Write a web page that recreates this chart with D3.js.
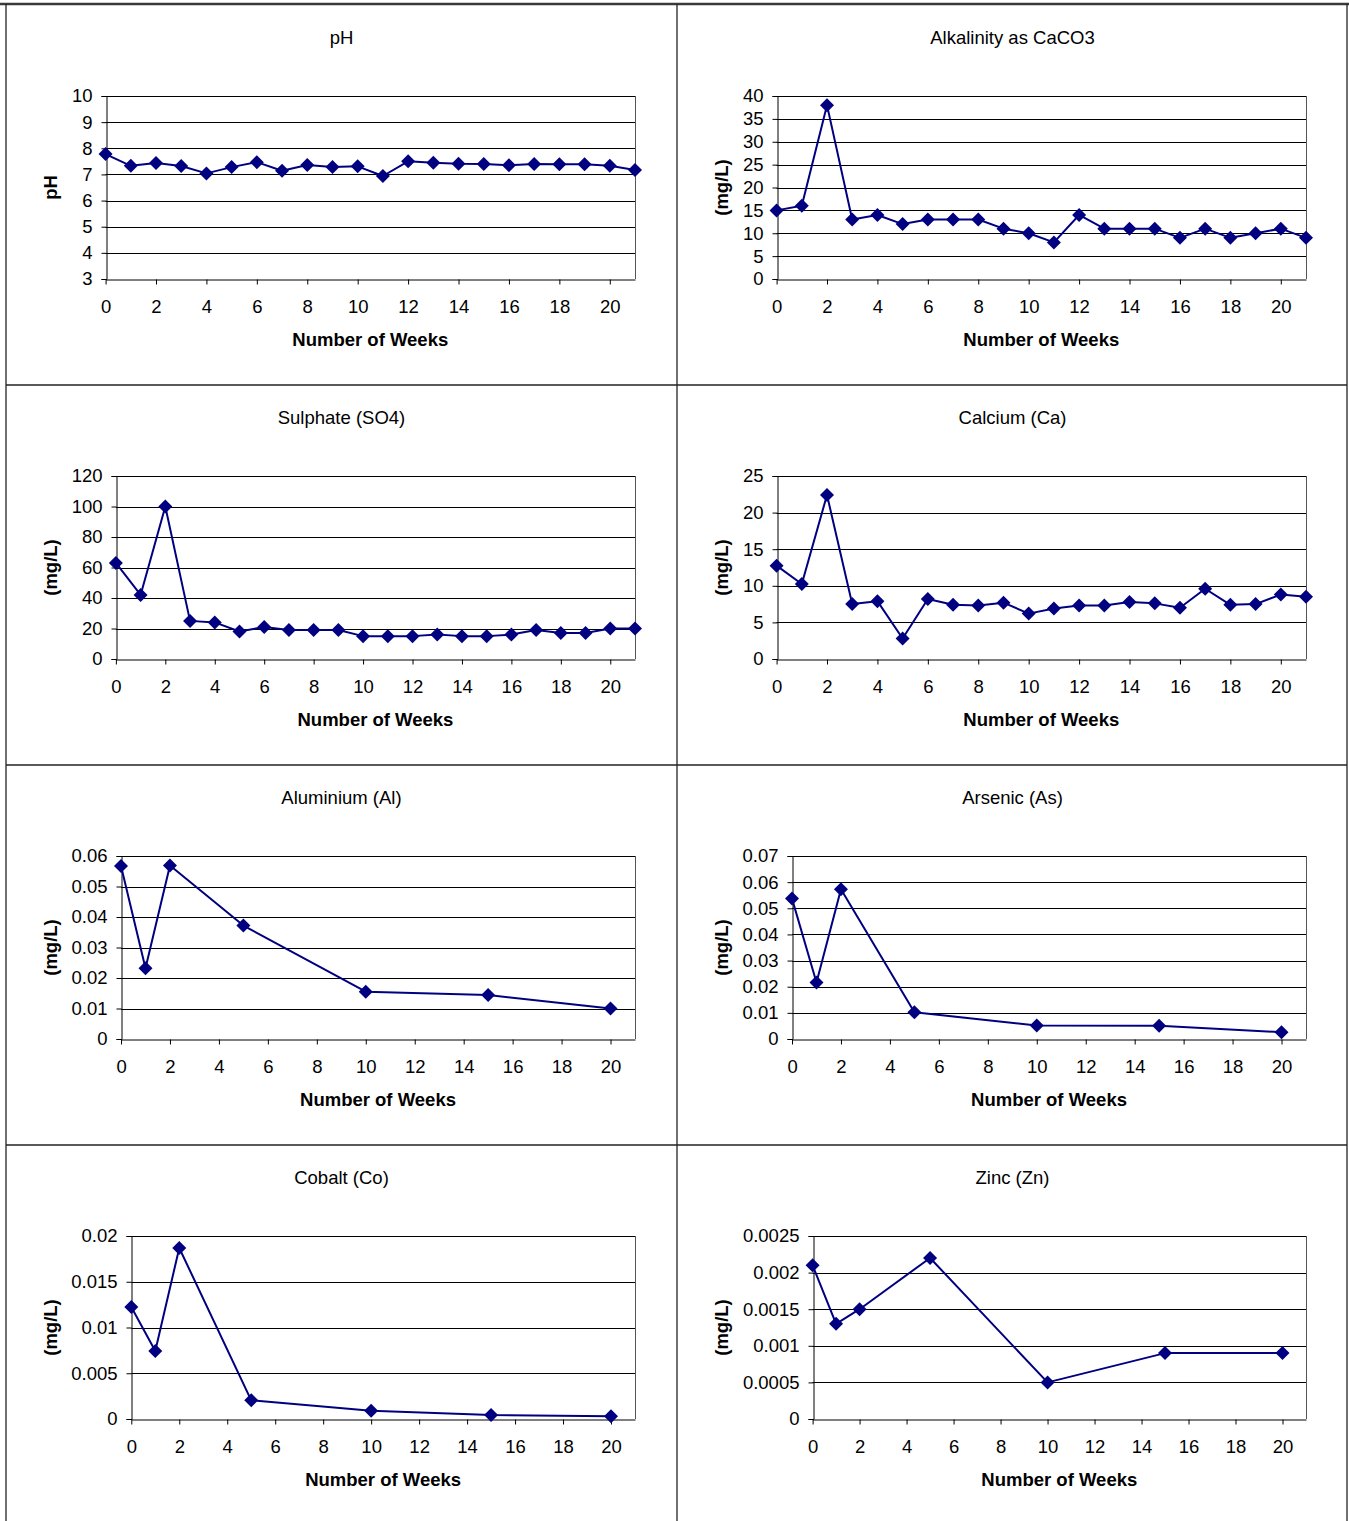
<!DOCTYPE html>
<html>
<head>
<meta charset="utf-8">
<script src="https://cdn.jsdelivr.net/npm/d3@7/dist/d3.min.js"></script>
<style>
  html, body { margin: 0; padding: 0; background: #fff; }
  svg { display: block; font-family: "Liberation Sans", Arial, sans-serif; }
</style>
</head>
<body>
<svg id="chart" width="1349" height="1521"></svg>
<script>
// Weekly sampling: full series (weeks 0-21) and sparse metal series
const weeksFull = [0, 1, 2, 3, 4, 5, 6, 7, 8, 9, 10, 11, 12, 13, 14, 15, 16, 17, 18, 19, 20, 21];
const weeksSparse = [0, 1, 2, 5, 10, 15, 20];
const weekTicks = [0, 2, 4, 6, 8, 10, 12, 14, 16, 18, 20];

const phValues = [7.78, 7.33, 7.44, 7.32, 7.04, 7.28, 7.47, 7.14, 7.36, 7.28, 7.31, 6.94, 7.5, 7.45, 7.41, 7.4, 7.35, 7.4, 7.39, 7.39, 7.33, 7.17];
const alkalinityValues = [15, 16, 38, 13, 14, 12, 13, 13, 13, 11, 10, 8, 14, 11, 11, 11, 9, 11, 9, 10, 11, 9];
const sulphateValues = [63, 42, 100, 25, 24, 18, 21, 19, 19, 19, 15, 15, 15, 16, 15, 15, 16, 19, 17, 17, 20, 20];
const calciumValues = [12.75, 10.25, 22.4, 7.5, 7.9, 2.8, 8.2, 7.4, 7.3, 7.7, 6.2, 6.9, 7.3, 7.3, 7.8, 7.6, 7.0, 9.6, 7.4, 7.5, 8.8, 8.5];
const aluminiumValues = [0.0567, 0.0232, 0.0569, 0.0372, 0.0155, 0.0144, 0.01];
const arsenicValues = [0.0537, 0.0216, 0.0573, 0.0102, 0.0052, 0.0051, 0.0026];
const cobaltValues = [0.01224, 0.00743, 0.01869, 0.00204, 0.00091, 0.00044, 0.00029];
const zincValues = [0.0021, 0.0013, 0.0015, 0.0022, 0.0005, 0.0009, 0.0009];

const phTicks = [3, 4, 5, 6, 7, 8, 9, 10];
const alkalinityTicks = [0, 5, 10, 15, 20, 25, 30, 35, 40];
const sulphateTicks = [0, 20, 40, 60, 80, 100, 120];
const calciumTicks = [0, 5, 10, 15, 20, 25];
const aluminiumTicks = [0, 0.01, 0.02, 0.03, 0.04, 0.05, 0.06];
const arsenicTicks = [0, 0.01, 0.02, 0.03, 0.04, 0.05, 0.06, 0.07];
const cobaltTicks = [0, 0.005, 0.01, 0.015, 0.02];
const zincTicks = [0, 0.0005, 0.001, 0.0015, 0.002, 0.0025];

const panelTitles = ["pH", "Alkalinity as CaCO3", "Sulphate (SO4)", "Calcium (Ca)", "Aluminium (Al)", "Arsenic (As)", "Cobalt (Co)", "Zinc (Zn)"];
const yTitles = ["pH", "(mg/L)", "(mg/L)", "(mg/L)", "(mg/L)", "(mg/L)", "(mg/L)", "(mg/L)"];
const xTitle = "Number of Weeks";

const panels = [
  { weeks: weeksFull, values: phValues, ticks: phTicks },
  { weeks: weeksFull, values: alkalinityValues, ticks: alkalinityTicks },
  { weeks: weeksFull, values: sulphateValues, ticks: sulphateTicks },
  { weeks: weeksFull, values: calciumValues, ticks: calciumTicks },
  { weeks: weeksSparse, values: aluminiumValues, ticks: aluminiumTicks },
  { weeks: weeksSparse, values: arsenicValues, ticks: arsenicTicks },
  { weeks: weeksSparse, values: cobaltValues, ticks: cobaltTicks },
  { weeks: weeksSparse, values: zincValues, ticks: zincTicks }
].map((p, i) => ({ ...p, title: panelTitles[i], yTitle: yTitles[i] }));

// Page layout
const colLefts = [6, 677];
const colRight = 1347;
const rowTops = [5, 385, 765, 1145];
const fontSize = 18.5;
const lineColor = "#000080";

const svg = d3.select("#chart");

// Measure tick label widths to place each plot area's left edge
const measurer = svg.append("text").attr("font-size", fontSize).attr("visibility", "hidden");
function textWidth(s) {
  measurer.text(s);
  return measurer.node().getComputedTextLength();
}

panels.forEach((p, i) => {
  const col = i % 2, row = Math.floor(i / 2);
  const cellLeft = colLefts[col];
  const top = rowTops[row];
  const plotTop = top + 91;
  const plotBottom = top + 274;
  const maxLabel = d3.max(p.ticks, t => textWidth(String(t)));
  const plotLeft = cellLeft + 79 + maxLabel;
  const plotRight = cellLeft + 629;

  const x = d3.scaleLinear().domain([0, 21]).range([plotLeft, plotRight]);
  const y = d3.scaleLinear().domain([p.ticks[0], p.ticks[p.ticks.length - 1]]).range([plotBottom, plotTop]);

  const g = svg.append("g");

  // Panel title
  g.append("text")
    .attr("x", cellLeft + 335.5).attr("y", top + 38.5)
    .attr("text-anchor", "middle").attr("font-size", fontSize)
    .text(p.title);

  // Horizontal gridlines
  g.append("g").selectAll("line").data(p.ticks.slice(1)).join("line")
    .attr("x1", plotLeft).attr("x2", plotRight)
    .attr("y1", d => Math.round(y(d)) + 0.5).attr("y2", d => Math.round(y(d)) + 0.5)
    .attr("stroke", "#000").attr("stroke-width", 1);

  // Plot-area right border
  g.append("line")
    .attr("x1", Math.round(plotRight) + 0.5).attr("x2", Math.round(plotRight) + 0.5)
    .attr("y1", plotTop).attr("y2", plotBottom)
    .attr("stroke", "#555").attr("stroke-width", 1);

  // Y axis
  const yAxis = d3.axisLeft(y).tickValues(p.ticks).tickFormat(d => String(d)).tickSize(5).tickPadding(9);
  const yG = g.append("g").attr("transform", `translate(${Math.round(plotLeft) + 0.5},0)`).call(yAxis);
  yG.selectAll("text").attr("font-size", fontSize).attr("fill", "#000");
  yG.selectAll("line, path").attr("stroke", "#000");
  yG.attr("font-family", null);

  // X axis
  const xAxis = d3.axisBottom(x).tickValues(weekTicks).tickFormat(d => String(d)).tickSize(5).tickPadding(15).tickSizeOuter(0);
  const xG = g.append("g").attr("transform", `translate(0,${Math.round(plotBottom) + 0.5})`).call(xAxis);
  xG.selectAll("text").attr("font-size", fontSize).attr("fill", "#000");
  xG.selectAll("line, path").attr("stroke", "#000");
  xG.attr("font-family", null);

  // Axis titles
  g.append("text")
    .attr("x", (plotLeft + plotRight) / 2).attr("y", plotBottom + 67)
    .attr("text-anchor", "middle").attr("font-size", fontSize).attr("font-weight", "bold")
    .text(xTitle);
  g.append("text")
    .attr("transform", `translate(${cellLeft + 50.5},${(plotTop + plotBottom) / 2}) rotate(-90)`)
    .attr("text-anchor", "middle").attr("font-size", fontSize).attr("font-weight", "bold")
    .text(p.yTitle);

  // Series line and diamond markers
  const pts = p.weeks.map((w, k) => [x(w), y(p.values[k])]);
  g.append("path")
    .attr("d", d3.line()(pts))
    .attr("fill", "none").attr("stroke", lineColor).attr("stroke-width", 2)
    .attr("stroke-linejoin", "round");
  const r = 7;
  g.append("g").selectAll("path").data(pts).join("path")
    .attr("d", ([cx, cy]) => `M${cx},${cy - r}L${cx + r},${cy}L${cx},${cy + r}L${cx - r},${cy}Z`)
    .attr("fill", lineColor);
});
measurer.remove();

// Panel frame lines
const frame = svg.append("g").attr("stroke", "#222").attr("fill", "none");
frame.append("line").attr("x1", 0).attr("x2", 1349).attr("y1", 4).attr("y2", 4).attr("stroke", "#3a3a3a").attr("stroke-width", 2.5);
[385, 765, 1145].forEach(yy => {
  frame.append("line").attr("x1", 6).attr("x2", colRight).attr("y1", yy).attr("y2", yy).attr("stroke-width", 1.5);
});
[6, 677, colRight].forEach(xx => {
  frame.append("line").attr("x1", xx).attr("x2", xx).attr("y1", 4).attr("y2", 1521).attr("stroke-width", 1.3);
});
</script>
</body>
</html>
